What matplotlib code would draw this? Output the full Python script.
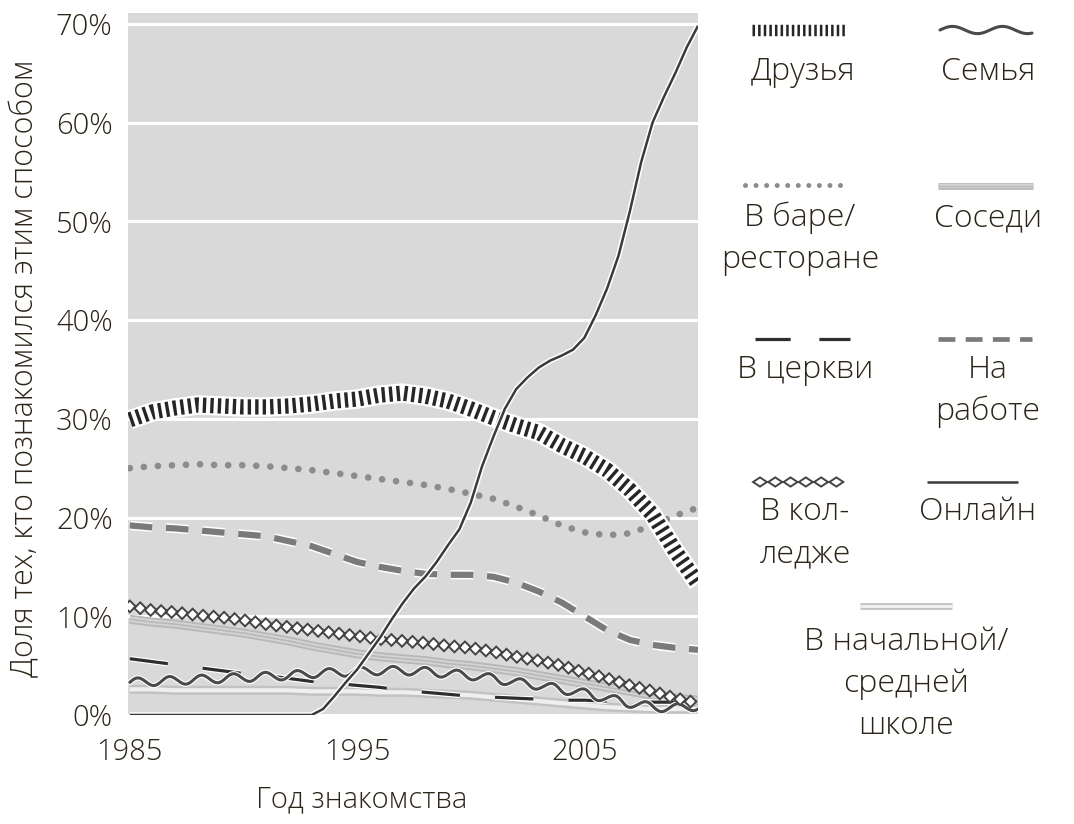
import numpy as np
import matplotlib
matplotlib.use('Agg')
from matplotlib import pyplot as plt
from matplotlib import patheffects as pe
from matplotlib.path import Path
from matplotlib.transforms import IdentityTransform
from matplotlib.colors import to_rgba

years = list(range(1985, 2011))

friends = [29.9, 30.7, 31.1, 31.4, 31.3, 31.2, 31.2, 31.3, 31.5, 31.8, 32.0, 32.4, 32.6,
           32.3, 31.8, 31.0, 30.1, 29.3, 28.6, 27.3, 26.2, 24.8, 22.8, 20.3, 16.6, 13.3]
family = [3.3, 3.4, 3.5, 3.6, 3.7, 3.8, 3.9, 4.0, 4.2, 4.3, 4.4, 4.5, 4.5,
          4.4, 4.2, 4.0, 3.7, 3.3, 3.0, 2.6, 2.2, 1.7, 1.2, 0.8, 0.7, 0.9]
bar = [25.0, 25.2, 25.3, 25.4, 25.3, 25.3, 25.2, 25.0, 24.8, 24.5, 24.2, 23.9, 23.6,
       23.3, 22.9, 22.4, 21.9, 21.1, 20.2, 19.2, 18.5, 18.2, 18.4, 19.2, 20.2, 21.0]
neighbors = [9.7, 9.4, 9.2, 8.9, 8.6, 8.3, 7.9, 7.5, 7.0, 6.6, 6.2, 5.9, 5.7,
             5.5, 5.2, 5.0, 4.7, 4.4, 4.0, 3.6, 3.2, 2.8, 2.4, 2.0, 1.7, 1.5]
church = [5.7, 5.4, 5.1, 4.8, 4.5, 4.2, 4.0, 3.7, 3.4, 3.2, 3.0, 2.8, 2.5,
          2.3, 2.1, 1.9, 1.8, 1.7, 1.6, 1.5, 1.5, 1.4, 1.4, 1.3, 1.3, 1.3]
work = [19.2, 19.0, 18.9, 18.7, 18.5, 18.3, 18.1, 17.6, 17.1, 16.3, 15.5, 15.0, 14.6,
        14.3, 14.2, 14.2, 14.0, 13.4, 12.5, 11.4, 10.0, 8.6, 7.6, 7.1, 6.8, 6.6]
college = [11.0, 10.6, 10.4, 10.1, 9.9, 9.6, 9.2, 8.9, 8.6, 8.3, 8.0, 7.7, 7.5,
           7.3, 7.0, 6.8, 6.4, 5.9, 5.5, 5.0, 4.3, 3.7, 3.0, 2.4, 1.7, 1.2]
school = [2.6, 2.6, 2.5, 2.5, 2.5, 2.5, 2.5, 2.5, 2.4, 2.4, 2.4, 2.3, 2.3,
          2.2, 2.1, 2.0, 1.8, 1.6, 1.4, 1.2, 1.0, 0.8, 0.7, 0.6, 0.6, 0.6]

online_years = [1985, 1993, 1993.5, 1994, 1994.5, 1995, 1995.5, 1996, 1996.5, 1997, 1997.5,
                1998, 1998.5, 1999, 1999.5, 2000, 2000.5, 2001, 2001.5, 2002, 2002.5,
                2003, 2003.5, 2004, 2004.5, 2005, 2005.5, 2006, 2006.5, 2007, 2007.5,
                2008, 2008.5, 2009, 2009.5, 2010]
online = [0, 0, 0.6, 1.9, 3.3, 4.6, 6.2, 7.8, 9.6, 11.3, 12.8,
          14.0, 15.5, 17.2, 18.8, 21.5, 25.2, 28.2, 31.0, 33.0, 34.2,
          35.2, 35.9, 36.4, 37.0, 38.2, 40.5, 43.2, 46.5, 51.0, 56.0,
          60.0, 62.6, 65.0, 67.6, 69.8]

labels = {
    'friends': 'Друзья', 'family': 'Семья', 'bar': 'В баре/\nресторане',
    'neighbors': 'Соседи', 'church': 'В церкви', 'work': 'На\nработе',
    'college': 'В кол-\nледже', 'online': 'Онлайн',
    'school': 'В начальной/\nсредней\nшколе',
}
series = {'friends': (years, friends), 'family': (years, family), 'bar': (years, bar),
          'neighbors': (years, neighbors), 'church': (years, church), 'work': (years, work),
          'college': (years, college), 'online': (online_years, online),
          'school': (years, school)}

W, H = 1074, 824
TEXT = '#2b2418'
plt.rcParams['font.family'] = ['Open Sans', 'DejaVu Sans']
plt.rcParams['font.weight'] = 'light'


def resample(v, step):
    seg = np.hypot(np.diff(v[:, 0]), np.diff(v[:, 1]))
    keep = np.concatenate([[True], seg > 0])
    v = v[keep]
    s = np.concatenate([[0.0], np.cumsum(seg[seg > 0])])
    t = np.arange(0.0, s[-1] + 1e-9, step)
    return t, np.column_stack([np.interp(t, s, v[:, 0]), np.interp(t, s, v[:, 1])])


class Wavy(pe.AbstractPathEffect):
    # draws the line as a sine wave following the path
    def __init__(self, amp, wl, **kw):
        super().__init__()
        self.amp, self.wl, self._gc = amp, wl, kw

    def draw_path(self, renderer, gc, tpath, affine, rgbFace=None):
        v = affine.transform(tpath.vertices)
        s, p = resample(v, 1.0)
        d = np.gradient(p, axis=0)
        n = np.column_stack([-d[:, 1], d[:, 0]]) / np.hypot(d[:, 0], d[:, 1])[:, None]
        amp = renderer.points_to_pixels(self.amp)
        wl = renderer.points_to_pixels(self.wl)
        p = p + n * (amp * np.sin(2 * np.pi * s / wl))[:, None]
        gc0 = renderer.new_gc()
        gc0.copy_properties(gc)
        gc0 = self._update_gc(gc0, self._gc)
        renderer.draw_path(gc0, Path(p), IdentityTransform(), None)
        gc0.restore()


class DiamondChain(pe.AbstractPathEffect):
    # hollow diamonds placed at equal steps along the path
    def __init__(self, step, hw, hh, face='white', **kw):
        super().__init__()
        self.step, self.hw, self.hh, self.face, self._gc = step, hw, hh, face, kw

    def draw_path(self, renderer, gc, tpath, affine, rgbFace=None):
        px = renderer.points_to_pixels
        v = affine.transform(tpath.vertices)
        _, p = resample(v, px(self.step))
        hw, hh = px(self.hw), px(self.hh)
        shape = np.array([[-hw, 0], [0, hh], [hw, 0], [0, -hh], [-hw, 0]])
        verts = (p[:, None, :] + shape[None]).reshape(-1, 2)
        codes = np.tile([Path.MOVETO, Path.LINETO, Path.LINETO, Path.LINETO, Path.CLOSEPOLY], len(p))
        gc0 = renderer.new_gc()
        gc0.copy_properties(gc)
        gc0 = self._update_gc(gc0, self._gc)
        gc0.set_joinstyle('miter')
        renderer.draw_path(gc0, Path(verts, codes), IdentityTransform(), to_rgba(self.face))
        gc0.restore()


def halo(lw, color='white'):
    return pe.Stroke(linewidth=lw, foreground=color, capstyle='butt',
                     dashes={'dash_offset': 0, 'dash_list': None})


def style(key, legend=False):
    k = 0.75 if legend else 1.0
    if key == 'friends':
        return dict(color='#262626', lw=11 * k, ls=(0, (0.22, 0.27)), dash_capstyle='butt',
                    path_effects=[halo(11 * k + 3), pe.Normal()], zorder=4)
    if key == 'family':
        wl = 36 if legend else 23
        amp = 2.6 if legend else 3.0
        return dict(color='#4a4a4a', lw=2.2, solid_capstyle='round',
                    path_effects=[Wavy(amp, wl, linewidth=3.8, foreground='white'),
                                  Wavy(amp, wl)], zorder=3.2)
    if key == 'bar':
        return dict(color='#8c8c8c', lw=4.8 * k, ls=(0, (0.01, 2.1)), dash_capstyle='round',
                    zorder=3.8)
    if key == 'neighbors':
        return dict(color='#b8b8b8', lw=6.5 * k, solid_capstyle='butt',
                    path_effects=[pe.Normal(), pe.Stroke(linewidth=3.8 * k, foreground='#d4d4d4'),
                                  pe.Stroke(linewidth=1.2 * k, foreground='#b8b8b8')], zorder=2.1)
    if key == 'church':
        dash = (0, (11, 9)) if legend else (0, (12, 11))
        return dict(color='#2e2e2e', lw=2.3, ls=dash, dash_capstyle='butt',
                    path_effects=[pe.Stroke(linewidth=4.0, foreground='white'), pe.Normal()],
                    zorder=3)
    if key == 'work':
        return dict(color='#7a7a7a', lw=4.5 * k, ls=(0, (3.6, 2.2)), dash_capstyle='butt',
                    path_effects=[pe.Stroke(linewidth=4.5 * k + 2.2, foreground='white'),
                                  pe.Normal()], zorder=3.6)
    if key == 'college':
        chain = DiamondChain(11, 5, 3.3) if legend else DiamondChain(7.6, 4.2, 4.2)
        return dict(color='#444444', lw=1.4, path_effects=[chain], zorder=3.4)
    if key == 'online':
        return dict(color='#3a3a3a', lw=1.8, solid_capstyle='butt', solid_joinstyle='round',
                    path_effects=[halo(4.0), pe.Normal()], zorder=5)
    if key == 'school':
        return dict(color='#c2c2c2', lw=6.5 * k, solid_capstyle='butt',
                    path_effects=[pe.Normal(), pe.Stroke(linewidth=3 * k, foreground='#efefef')],
                    zorder=2)


fig = plt.figure(figsize=(W / 100, H / 100), dpi=100)
ax = fig.add_axes([128 / W, 1 - 715 / H, (698 - 128) / W, (715 - 13) / H])
ax.set_facecolor('#d9d9d9')
for sp in ax.spines.values():
    sp.set_visible(False)

for key, (xs, vals) in series.items():
    ax.plot(xs, vals, **style(key))

ax.set_xlim(1984.92, 2010.0)
ax.set_ylim(0, 71.1)
ax.set_yticks(range(0, 71, 10))
ax.set_yticklabels([f'{v}%' for v in range(0, 71, 10)])
ax.set_xticks([1985, 1995, 2005])
ax.yaxis.grid(True, color='white', lw=2.2)
ax.set_axisbelow(True)
ax.tick_params(length=0, labelsize=21, labelcolor=TEXT)
ax.tick_params(axis='y', pad=11)
ax.tick_params(axis='x', pad=16)

fig.text(362 / W, 1 - 800 / H, 'Год знакомства', ha='center', va='center',
         fontsize=21, color=TEXT)
fig.text(25 / W, 1 - 368 / H, 'Доля тех, кто познакомился этим способом', ha='center',
         va='center', rotation=90, fontsize=22, color=TEXT)

# legend drawn by hand in pixel coordinates
leg = fig.add_axes([0, 0, 1, 1], facecolor='none')
leg.set_xlim(0, W)
leg.set_ylim(H, 0)
leg.axis('off')
legend_pos = {
    'friends': (752, 846, 30, 803, 72),
    'family': (940, 1032, 30, 988, 72),
    'bar': (745, 842, 185, 800, 218),
    'neighbors': (938, 1033, 186, 988, 218),
    'church': (755, 850, 339, 805, 370),
    'work': (938, 1032, 339, 988, 370),
    'college': (760, 850, 482, 805, 512),
    'online': (927, 1018, 482, 978, 512),
    'school': (860, 952, 606, 906, 642),
}
for key, (x0, x1, y, tx, ty) in legend_pos.items():
    leg.plot([x0, x1], [y, y], **style(key, legend=True))
    for i, line in enumerate(labels[key].split('\n')):
        leg.text(tx, ty + i * 42, line, ha='center', va='center', fontsize=23, color=TEXT)

fig.savefig('out.png', dpi=100, facecolor='white')
